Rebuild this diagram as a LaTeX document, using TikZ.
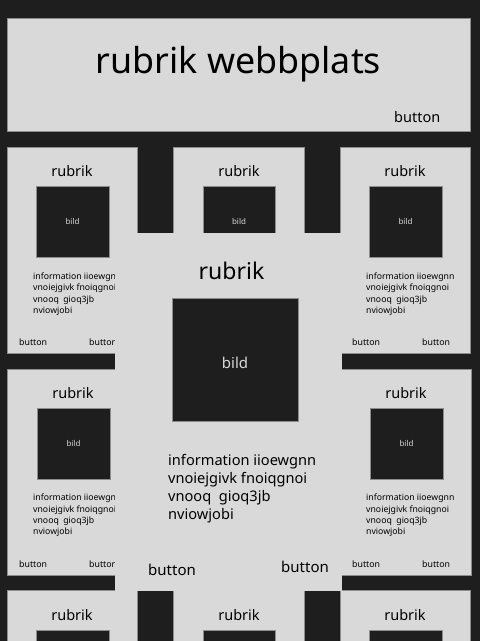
\documentclass[tikz,border=0pt]{standalone}
\usepackage{fontspec}
\setmainfont{Noto Sans}
\definecolor{bg}{HTML}{1E1E1E}
\definecolor{cardfill}{HTML}{D9D9D9}
\definecolor{edge}{HTML}{8C8C8C}
\newcommand{\fs}[1]{\fontsize{#1}{#1}\selectfont}
\tikzset{
  card/.style={fill=cardfill, draw=edge, line width=0.6pt},
  img/.style={fill=bg, draw=edge, line width=0.6pt},
  txt/.style={inner sep=0pt, anchor=base west, text=black},
  ctxt/.style={inner sep=0pt, anchor=base, text=black},
  imgtxt/.style={inner sep=0pt, anchor=base, text=cardfill},
}
\begin{document}
\begin{tikzpicture}[x=1pt,y=-1pt]
\useasboundingbox (0,0) rectangle (480,641);
\fill[bg] (0,0) rectangle (480,641);
\clip (0,0) rectangle (480,641);
% header
\path[card] (7,18) rectangle (470,131);
\node[ctxt, font=\fs{35.8}] (title) at (238.5,73) {rubrik webbplats};
\node[txt, font=\fs{14.5}] (hbtn) at (394,122) {button};
% top row cards
\path[card] (7,147) rectangle (137,353);
\path[card] (173,147) rectangle (304,260);
\path[card] (340,147) rectangle (470,353);
% middle row side cards
\path[card] (7,369) rectangle (137,575);
\path[card] (320,369) rectangle (471,575);
% card contents (top row + middle side)
\foreach \cx/\bx/\by/\bw/\bh/\ty/\tx/\btn [count=\i] in {
   72/36/186/73/71/176.7/33/345.3,
   405/369/186/73/71/176.7/366/345.3,
   73/37/408/73/71/398.3/33/567.3,
   406/370/408/73/71/398.3/366/567.3}{
  \node[ctxt, font=\fs{14.5}] (r\i) at (\cx,\ty) {rubrik};
  \path[img] (\bx,\by) rectangle ++(\bw,\bh);
  \node[imgtxt, font=\fs{8}] (b\i) at (\bx+\bw/2,\by+\bh/2+3) {bild};
  \node[txt, font=\fs{8.7}] (ia\i) at (\tx,\ty+102.6) {information iioewgnn};
  \node[txt, font=\fs{8.7}] (ib\i) at (\tx,\ty+114) {vnoiejgivk fnoiqgnoi};
  \node[txt, font=\fs{8.7}] (ic\i) at (\tx,\ty+125.3) {vnooq\ \ gioq3jb};
  \node[txt, font=\fs{8.7}] (id\i) at (\tx,\ty+136.6) {nviowjobi};
  \node[txt, font=\fs{8.8}] (ba\i) at (\tx-14,\btn) {button};
  \node[txt, font=\fs{8.8}] (bb\i) at (\tx+56,\btn) {button};
}
% top middle card
\node[ctxt, font=\fs{14.5}] (rtm) at (239,176.7) {rubrik};
\path[img] (203,186) rectangle (275,260);
\node[imgtxt, font=\fs{8}] (btm) at (239,224.3) {bild};
% bottom row cards
\path[card] (7,590) rectangle (137,660);
\path[card] (173,590) rectangle (304,660);
\path[card] (340,590) rectangle (470,660);
\node[ctxt, font=\fs{14.5}] (rbl) at (72,620.7) {rubrik};
\node[ctxt, font=\fs{14.5}] (rbm) at (239,620.7) {rubrik};
\node[ctxt, font=\fs{14.5}] (rbr) at (405,620.7) {rubrik};
\path[img] (36,630) rectangle (109,660);
\path[img] (203,630) rectangle (275,660);
\path[img] (369,630) rectangle (442,660);
% center card
\fill[cardfill] (115,233) rectangle (342,591);
\node[ctxt, font=\fs{23}] (rc) at (231.5,279.3) {rubrik};
\path[img] (172,298) rectangle (298,421);
\node[imgtxt, font=\fs{15}] (bc) at (235,368.3) {bild};
\node[txt, font=\fs{14.6}] (ca) at (168,465.3) {information iioewgnn};
\node[txt, font=\fs{14.6}] (cb) at (168,483.5) {vnoiejgivk fnoiqgnoi};
\node[txt, font=\fs{14.6}] (cc) at (168,501.7) {vnooq\ \ gioq3jb};
\node[txt, font=\fs{14.6}] (cd) at (168,519.5) {nviowjobi};
\node[txt, font=\fs{15}] (cba) at (148,575.7) {button};
\node[txt, font=\fs{15}] (cbb) at (281,572.3) {button};
\end{tikzpicture}
\end{document}
